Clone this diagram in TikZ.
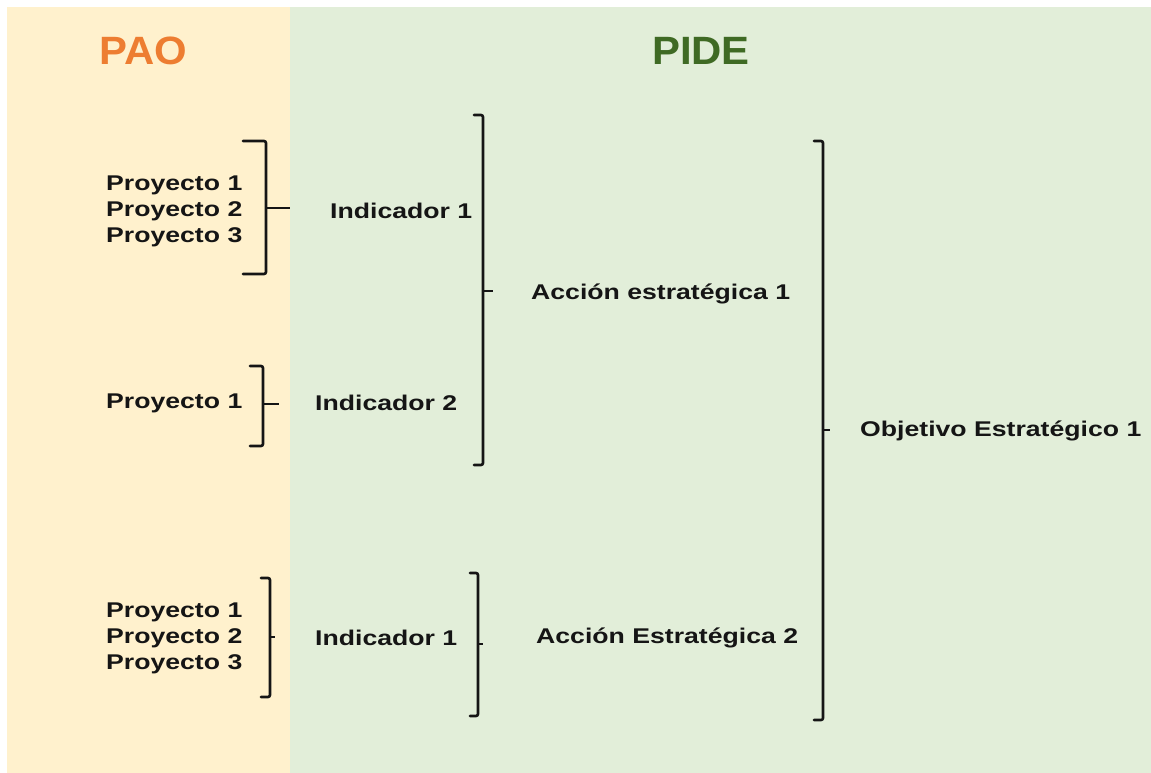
\documentclass[tikz,border=0pt]{standalone}
\usepackage{fontspec}
\setmainfont{Liberation Sans}
\newfontfamily\lblfont[FakeStretch=1.25]{Liberation Sans}
\newfontfamily\ttlfont[FakeStretch=1.06]{Liberation Sans}
\definecolor{cream}{HTML}{FFF1CD}
\definecolor{lgreen}{HTML}{E2EED9}
\definecolor{paoorange}{HTML}{ED7D31}
\definecolor{pidegreen}{HTML}{3F6A24}
\definecolor{ink}{HTML}{151515}
\newcommand\mybracket[6]{% name, x, ytop, ybot, serif, ymid
  \coordinate (#1) at (#2,#6);
  \draw[brk] (#2-#5,#3) -- (#2,#3) -- (#2,#4) -- (#2-#5,#4);
}
\tikzset{
  lbl/.style={inner sep=0pt, text=ink, font=\lblfont\bfseries\fontsize{21.3}{26}\selectfont, align=left},
  ttl/.style={inner sep=0pt, font=\ttlfont\bfseries\fontsize{39.5}{44}\selectfont},
  brk/.style={draw=ink, line width=2.6pt, rounded corners=2pt, line cap=round},
  tickline/.style={draw=ink, line width=2.6pt}
}
\begin{document}
\begin{tikzpicture}[x=1pt,y=-1pt]
\useasboundingbox (0,0) rectangle (1151,773);
\fill[white] (0,0) rectangle (1151,773);
\fill[cream] (7,7) rectangle (290,773);
\fill[lgreen] (290,7) rectangle (1151,773);

\node[ttl, text=paoorange] (pao) at (143,51) {PAO};
\node[ttl, text=pidegreen] (pide) at (701,51) {PIDE};

\node[lbl, anchor=west] (pa) at (106,211) {Proyecto 1\\Proyecto 2\\Proyecto 3};
\node[lbl, anchor=west] (pb) at (106,403) {Proyecto 1};
\node[lbl, anchor=west] (pc) at (106,638) {Proyecto 1\\Proyecto 2\\Proyecto 3};

\node[lbl, anchor=west] (ia) at (330,211) {Indicador 1};
\node[lbl, anchor=west] (ib) at (315,403) {Indicador 2};
\node[lbl, anchor=west] (ic) at (315,638) {Indicador 1};

\node[lbl, anchor=west] (aa) at (531,294) {Acción estratégica 1};
\node[lbl, anchor=west] (ab) at (536,638) {Acción Estratégica 2};

\node[lbl, anchor=west] (oa) at (860,431) {Objetivo Estratégico 1};

% brackets
\mybracket{ba}{266}{141}{274}{23}{208}
\mybracket{bb}{263}{366}{446}{13}{404}
\mybracket{bc}{270}{578}{697}{9}{637}
\mybracket{bd}{483}{115}{465}{9}{291}
\mybracket{be}{478}{573}{716}{8}{644}
\mybracket{bf}{823}{141}{720}{9}{430}

\draw[tickline] (ba) -- ([xshift=-40pt]ba -| ia.west);
\draw[tickline] (bb) -- ([xshift=-36pt]bb -| ib.west);
\draw[tickline] (bc) -- ([xshift=-40pt]bc -| ic.west);
\draw[tickline] (bd) -- ([xshift=-38pt]bd -| aa.west);
\draw[tickline] (be) -- ([xshift=-53pt]be -| ab.west);
\draw[tickline] (bf) -- ([xshift=-30pt]bf -| oa.west);
\end{tikzpicture}
\end{document}
